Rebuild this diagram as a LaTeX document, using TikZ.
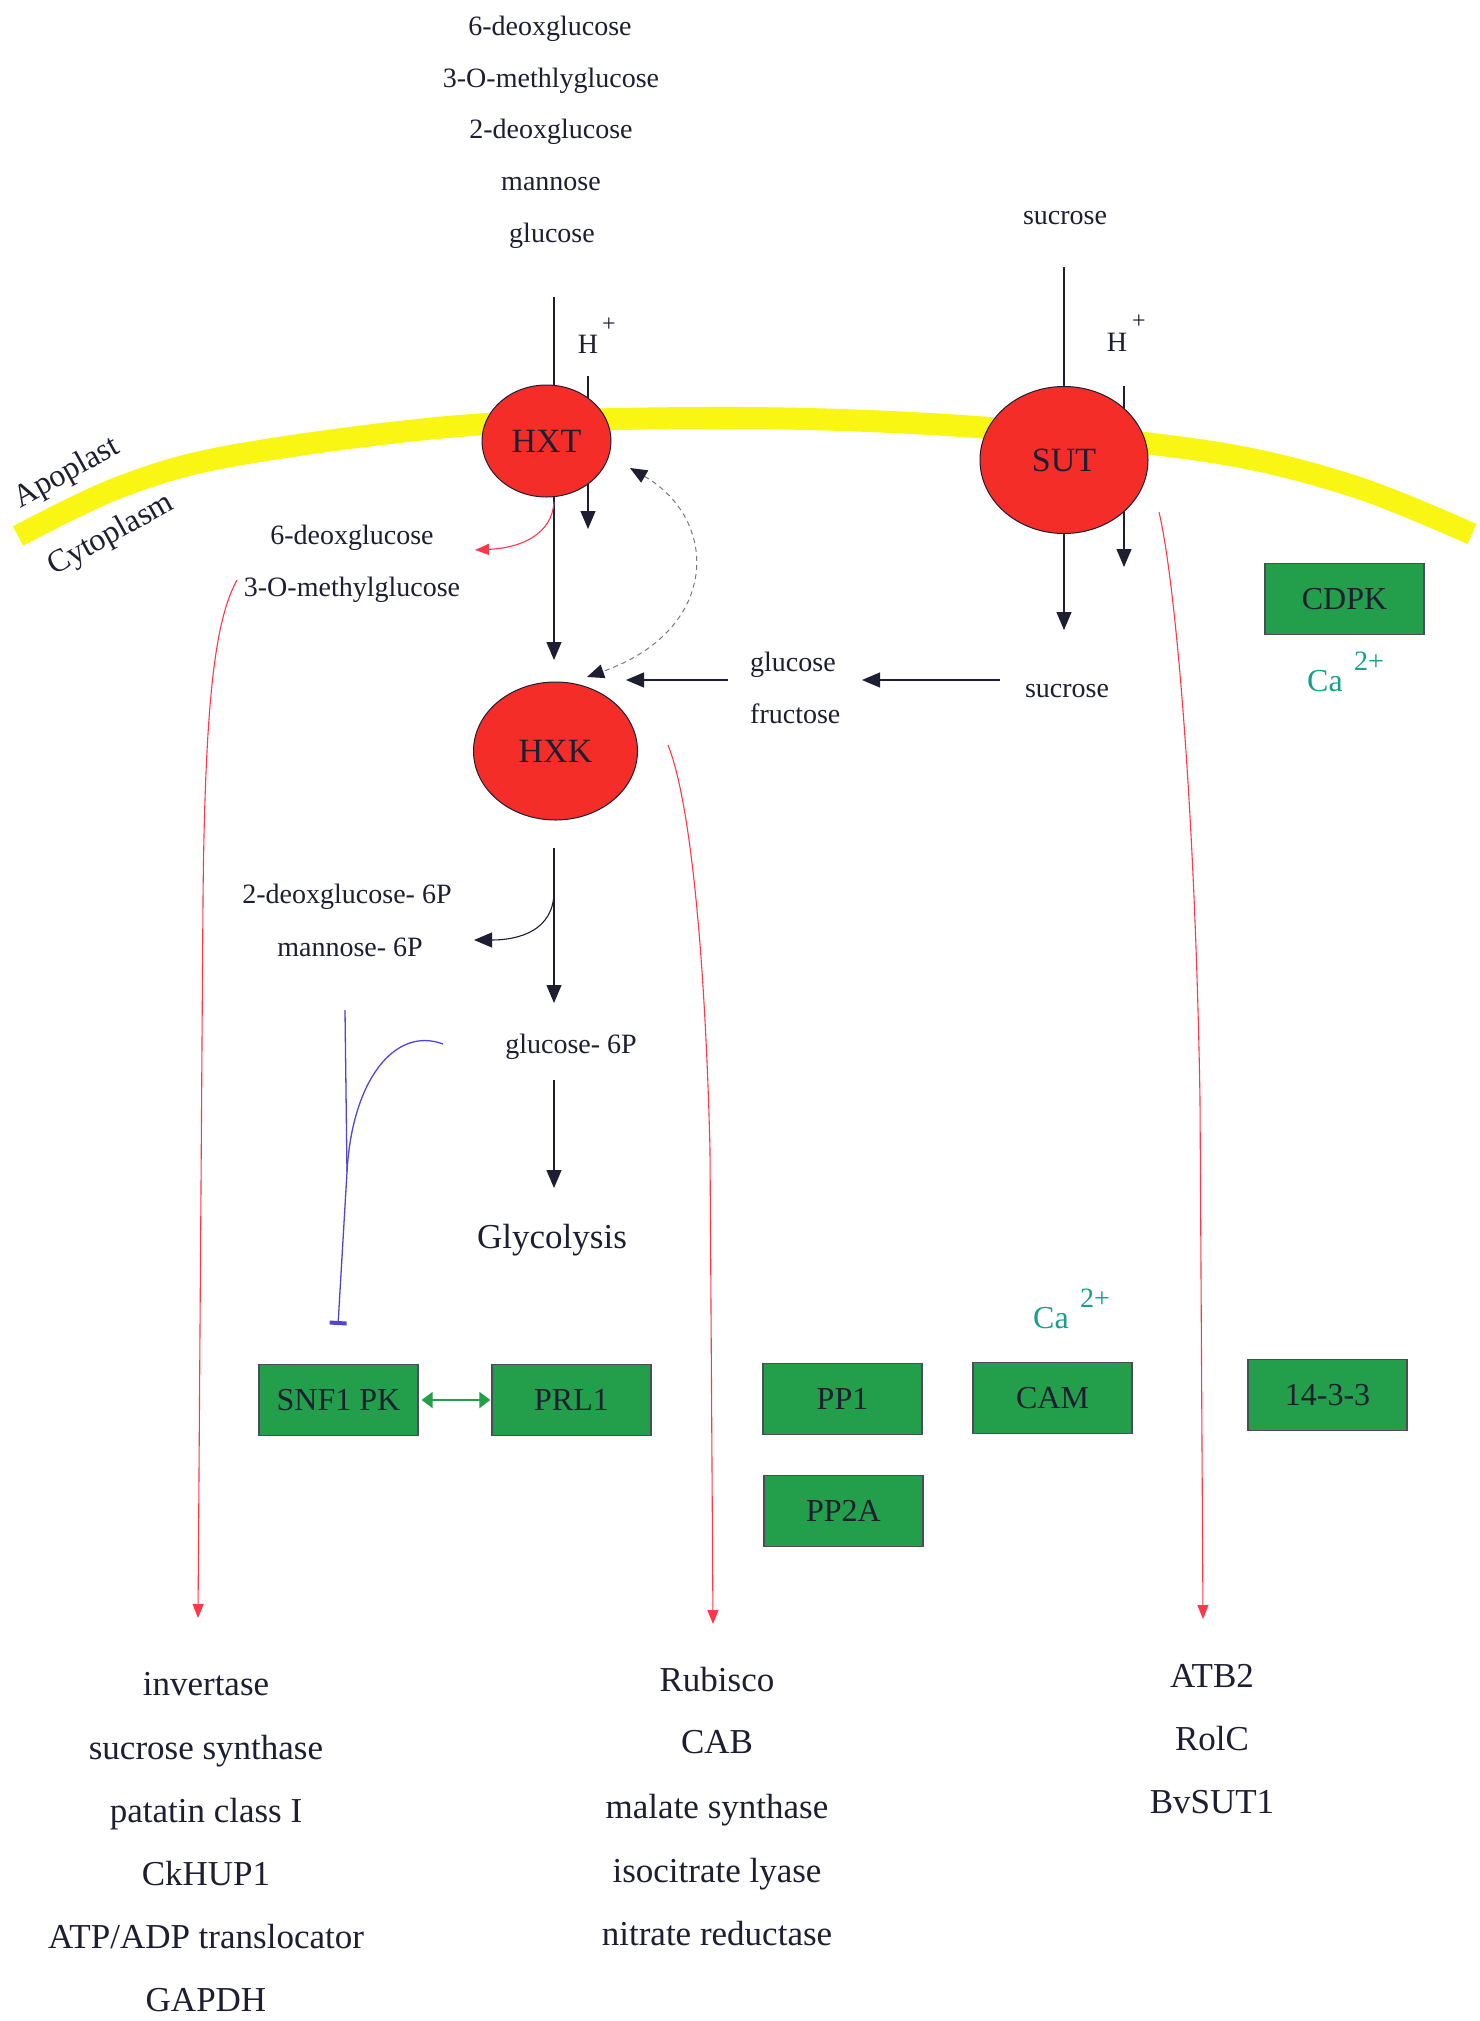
\documentclass[tikz,border=0pt]{standalone}
\usepackage{fontspec}
\setmainfont{Liberation Serif}
\usetikzlibrary{arrows.meta,shapes.geometric}
\definecolor{memb}{RGB}{250,246,20}
\definecolor{cellred}{RGB}{245,45,40}
\definecolor{boxgreen}{RGB}{35,158,75}
\definecolor{sigred}{RGB}{255,55,75}
\definecolor{inhblue}{RGB}{80,70,210}
\definecolor{tealc}{RGB}{20,160,140}
\definecolor{ink}{RGB}{30,30,50}
\tikzset{
 txt/.style={inner sep=0pt, text height=21pt, text depth=0pt, text=ink},
 fA/.style={font=\fontsize{28}{32}\selectfont},
 fB/.style={font=\fontsize{32}{36}\selectfont},
 fC/.style={font=\fontsize{35}{40}\selectfont},
 fS/.style={font=\fontsize{24}{28}\selectfont},
 prot/.style={ellipse, draw=ink, line width=1pt, fill=cellred, inner sep=0pt, text=ink, font=\fontsize{34}{40}\selectfont},
 gbox/.style={draw=ink!80, line width=1.2pt, fill=boxgreen, minimum width=159pt, minimum height=71pt, inner sep=0pt, text=ink, font=\fontsize{32}{38}\selectfont},
 arr/.style={draw=ink, line width=1.1pt, -{Triangle[length=18pt,width=15pt]}},
 redarr/.style={draw=sigred, line width=1.1pt, -{Triangle[length=14pt,width=11pt]}},
 inh/.style={draw=inhblue, line width=1.3pt},
}
\begin{document}
\begin{tikzpicture}[x=1pt,y=-1pt]
\useasboundingbox[fill=white] (0,0) rectangle (1480,2021);

% membrane
\draw[memb, line width=22pt] plot[smooth, tension=0.55] coordinates {(18,536) (120,487) (236,455) (472,425) (740,418) (976,427) (1212,452) (1353,486) (1472,534)};
\node[txt,fB,rotate=29] (apo) at (66,471) {Apoplast};
\node[txt,fB,rotate=29] (cyto) at (110,533) {Cytoplasm};

% top sugars
\node[txt,fA] (t1) at (550,25) {6-deoxglucose};
\node[txt,fA] (t2) at (551,77) {3-O-methlyglucose};
\node[txt,fA] (t3) at (551,128) {2-deoxglucose};
\node[txt,fA] (t4) at (551,180) {mannose};
\node[txt,fA] (t5) at (552,232) {glucose};
\node[txt,fA] (suc1) at (1065,214) {sucrose};

% H+ labels
\node[txt,fA] (h1) at (588,343) {H};
\node[txt,fS] (p1) at (609,321) {+};
\node[txt,fA] (h2) at (1117,341) {H};
\node[txt,fS] (p2) at (1139,318) {+};

% coordinates
\coordinate (gtop) at (554,297);
\coordinate (gend) at (554,660);
\coordinate (ha) at (588,376);
\coordinate (hb) at (588,529);
\coordinate (stop) at (1064,267);
\coordinate (send) at (1064,630);
\coordinate (sha) at (1124,386);
\coordinate (shb) at (1124,567);

% lines behind transporters
\draw[arr] (gtop) -- (gend);
\draw[arr] (ha) -- (hb);
\draw[arr] (stop) -- (send);
\draw[arr] (sha) -- (shb);

% transporters / enzymes
\node[prot, minimum width=129pt, minimum height=112pt] (HXT) at (546.5,441) {HXT};
\node[prot, minimum width=168pt, minimum height=147pt] (SUT) at (1064,460) {SUT};
\node[prot, minimum width=164pt, minimum height=138pt] (HXK) at (555.5,751) {HXK};

% left products after HXT
\node[txt,fA] (l1) at (352,534) {6-deoxglucose};
\node[txt,fA] (l2) at (352,586) {3-O-methylglucose};
\coordinate (ra) at (554,502);
\coordinate (rb) at (475,550);
\draw[redarr] (ra) .. controls (552,535) and (520,548) .. (rb);

% dashed double arrow
\coordinate (da) at (630,468);
\coordinate (db) at (587,677);
\draw[draw=ink!60, line width=1pt, dash pattern=on 5pt off 4pt,
  {Triangle[length=17pt,width=14pt,color=ink]}-{Triangle[length=17pt,width=14pt,color=ink]}]
  (da) .. controls (720,520) and (720,630) .. (db);

% glucose/fructose, sucrose
\node[txt,fA,anchor=west] (glc) at (750,661) {glucose};
\node[txt,fA,anchor=west] (fru) at (750,713) {fructose};
\node[txt,fA] (suc2) at (1067,687) {sucrose};
\coordinate (gfa) at (728,680);
\coordinate (gfb) at (626,680);
\draw[arr] (gfa) -- (gfb);
\coordinate (sua) at (1000,680);
\coordinate (sub) at (862,680);
\draw[arr] (sua) -- (sub);

% CDPK
\node[gbox] (CDPK) at (1344.5,599) {CDPK};
\node[txt,fB,text=tealc] (ca1) at (1325,681) {Ca};
\node[txt,fA,text=tealc] (ca1s) at (1369,660) {2+};

% below HXK
\coordinate (ka) at (554,848);
\coordinate (kb) at (554,1003);
\draw[arr] (ka) -- (kb);
\coordinate (kc) at (554,893);
\coordinate (kd) at (474,940);
\draw[arr] (kc) .. controls (553,930) and (520,940) .. (kd);
\node[txt,fA] (d6p) at (347,893) {2-deoxglucose- 6P};
\node[txt,fA] (m6p) at (350,946) {mannose- 6P};
\node[txt,fA] (g6p) at (571,1043) {glucose- 6P};
\coordinate (ga) at (554,1080);
\coordinate (gb) at (554,1188);
\draw[arr] (ga) -- (gb);
\node[txt,fC] (gly) at (552,1238) {Glycolysis};

% inhibition
\coordinate (ia) at (345,1010);
\coordinate (ij) at (347,1172);
\coordinate (ib) at (443,1044);
\coordinate (ie) at (338,1325);
\draw[inh] (ia) -- (ij);
\draw[inh, -{Bar[width=17pt,line width=4pt]}] (ib) .. controls (395,1026) and (352,1080) .. (ij) -- (ie);

% green boxes
\node[gbox] (SNF) at (338.5,1400) {SNF1 PK};
\node[gbox] (PRL) at (571.5,1400) {PRL1};
\node[gbox] (PP1) at (842.5,1399) {PP1};
\node[gbox] (CAM) at (1052.5,1398) {CAM};
\node[gbox] (F33) at (1327.5,1395) {14-3-3};
\node[gbox] (PP2A) at (843.5,1511) {PP2A};
\draw[draw=boxgreen, line width=2pt, {Triangle[length=11pt,width=16pt]}-{Triangle[length=11pt,width=16pt]}, shorten <=3pt, shorten >=1pt] (SNF.east) -- (PRL.west);
\node[txt,fB,text=tealc] (ca2) at (1051,1318) {Ca};
\node[txt,fA,text=tealc] (ca2s) at (1095,1297) {2+};

% red signalling curves
\coordinate (r1a) at (237,580);
\coordinate (r1b) at (198,1618);
\draw[redarr] (r1a) .. controls (215,620) and (205,700) .. (203,900) -- (r1b);
\coordinate (r2a) at (668,745);
\coordinate (r2b) at (713,1624);
\draw[redarr] (r2a) .. controls (690,800) and (705,950) .. (710,1150) -- (r2b);
\coordinate (r3a) at (1159,512);
\coordinate (r3b) at (1203,1619);
\draw[redarr] (r3a) .. controls (1175,580) and (1195,800) .. (1200,1100) -- (r3b);

% bottom lists
\node[txt,fC] (a1) at (206,1685) {invertase};
\node[txt,fC] (a2) at (206,1749) {sucrose synthase};
\node[txt,fC] (a3) at (206,1812) {patatin class I};
\node[txt,fC] (a4) at (206,1875) {CkHUP1};
\node[txt,fC] (a5) at (206,1938) {ATP/ADP translocator};
\node[txt,fC] (a6) at (206,2001) {GAPDH};
\node[txt,fC] (b1) at (717,1681) {Rubisco};
\node[txt,fC] (b2) at (717,1743) {CAB};
\node[txt,fC] (b3) at (717,1808) {malate synthase};
\node[txt,fC] (b4) at (717,1872) {isocitrate lyase};
\node[txt,fC] (b5) at (717,1935) {nitrate reductase};
\node[txt,fC] (c1) at (1212,1677) {ATB2};
\node[txt,fC] (c2) at (1212,1740) {RolC};
\node[txt,fC] (c3) at (1212,1803) {BvSUT1};
\end{tikzpicture}
\end{document}
